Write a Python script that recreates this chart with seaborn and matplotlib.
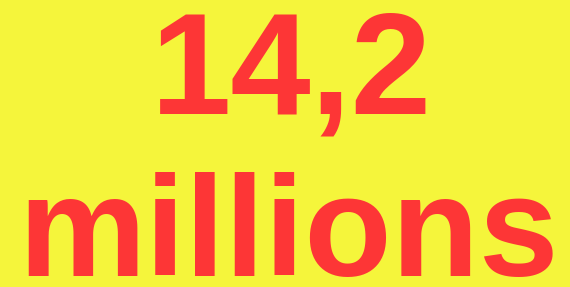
import matplotlib
matplotlib.use("Agg")
import matplotlib.pyplot as plt
import seaborn as sns

sns.set_theme(style="white")
plt.rcParams["font.family"] = ["Liberation Sans", "DejaVu Sans"]

# data
value = [14.2]
unit = ["millions"]
label = f"{value[0]:.1f}".replace(".", ",")

bg = "#f5f53b"
red = "#fd3636"

fig = plt.figure(figsize=(5.7, 2.87), dpi=100, facecolor=bg)
ax = fig.add_axes([0, 0, 1, 1])
ax.set_facecolor(bg)
ax.set_axis_off()

fig.text(0.511, 0.603, label, ha="center", va="baseline",
         fontsize=104, fontweight="bold", color=red)
fig.text(0.507, 0.040, unit[0], ha="center", va="baseline",
         fontsize=103, fontweight="bold", color=red)

fig.savefig("out.png", dpi=100, facecolor=bg)
